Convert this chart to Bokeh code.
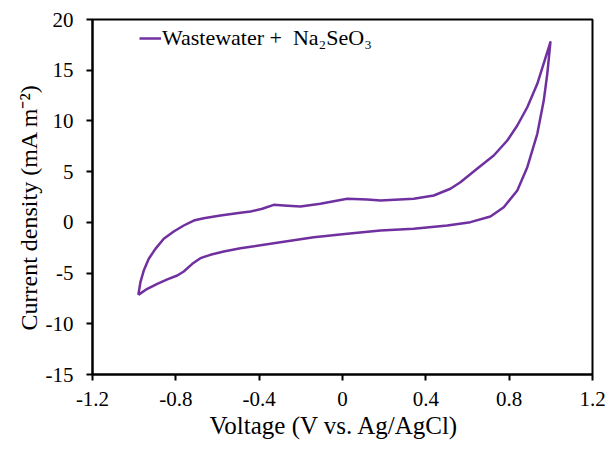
from bokeh.plotting import figure
from bokeh.models import Legend, LegendItem, FixedTicker, Range1d, Title
from bokeh.embed import file_html
from bokeh.resources import INLINE

# Forward (anodic) scan: -0.98 V -> 1.0 V
voltage_forward = [-0.980, -0.970, -0.954, -0.930, -0.898, -0.858, -0.810, -0.762, -0.714,
                   -0.666, -0.586, -0.490, -0.442, -0.385, -0.330, -0.282, -0.202, -0.106,
                   -0.042, 0.023, 0.119, 0.182, 0.342, 0.438, 0.518, 0.566, 0.646, 0.726,
                   0.791, 0.839, 0.887, 0.935, 0.998]
current_forward = [-7.15, -5.90, -4.75, -3.59, -2.61, -1.62, -0.90, -0.31, 0.18,
                   0.41, 0.68, 0.94, 1.07, 1.34, 1.73, 1.66, 1.56, 1.83,
                   2.09, 2.32, 2.25, 2.15, 2.32, 2.65, 3.31, 3.96, 5.28, 6.59,
                   8.07, 9.55, 11.35, 13.66, 17.76]
# Reverse (cathodic) scan: 1.0 V -> -0.98 V
voltage_reverse = [0.998, 0.983, 0.966, 0.935, 0.887, 0.839, 0.774, 0.710, 0.614, 0.503,
                   0.342, 0.182, 0.023, -0.138, -0.298, -0.457, -0.490, -0.570, -0.634,
                   -0.682, -0.721, -0.762, -0.793, -0.841, -0.889, -0.937, -0.980]
current_reverse = [17.76, 14.65, 12.01, 8.73, 5.44, 3.14, 1.49, 0.58, 0.02, -0.31,
                   -0.64, -0.80, -1.13, -1.46, -1.96, -2.45, -2.55, -2.87, -3.20,
                   -3.53, -4.09, -4.84, -5.24, -5.63, -6.06, -6.55, -7.15]

x_ticks = [-1.2, -0.8, -0.4, 0, 0.4, 0.8, 1.2]
x_tick_labels = ["-1.2", "-0.8", "-0.4", "0", "0.4", "0.8", "1.2"]
y_ticks = [-15, -10, -5, 0, 5, 10, 15, 20]
y_tick_labels = ["-15", "-10", "-5", "0", "5", "10", "15", "20"]
series_label = "Wastewater +  Na\u2082SeO\u2083"
x_title = "Voltage  (V vs. Ag/AgCl)"
y_title = "Current density  (mA m\u207b\u00b2)"

FONT = "Times New Roman"
PURPLE = "#7030A0"

p = figure(width=608, height=445, x_range=Range1d(-1.2, 1.2), y_range=Range1d(-15, 20),
           output_backend="svg", toolbar_location=None,
           min_border_left=92, min_border_right=16, min_border_top=19, min_border_bottom=71)

r = p.line(voltage_forward + voltage_reverse[1:], current_forward + current_reverse[1:],
           line_color=PURPLE, line_width=2.5, line_join="round")

p.xgrid.visible = False
p.ygrid.visible = False
p.outline_line_color = "black"
p.outline_line_width = 2
p.background_fill_color = "white"
p.border_fill_color = "white"

p.xaxis.ticker = FixedTicker(ticks=x_ticks)
p.xaxis.major_label_overrides = {t: l for t, l in zip(x_ticks, x_tick_labels)}
p.yaxis.ticker = FixedTicker(ticks=y_ticks)
p.yaxis.major_label_overrides = {t: l for t, l in zip(y_ticks, y_tick_labels)}

for ax in (p.xaxis[0], p.yaxis[0]):
    ax.axis_line_color = "black"
    ax.axis_line_width = 2
    ax.major_tick_line_color = "black"
    ax.major_tick_line_width = 2
    ax.major_tick_in = 0
    ax.major_tick_out = 6
    ax.minor_tick_line_color = None
    ax.major_label_text_font = FONT
    ax.major_label_text_font_size = "21px"
    ax.major_label_text_color = "black"

p.xaxis.major_label_standoff = 11
p.yaxis.major_label_standoff = 13

p.add_layout(Title(text=x_title, align="left", offset=117, standoff=3,
                   text_font=FONT, text_font_size="25px", text_font_style="normal",
                   text_color="black"), "below")
p.add_layout(Title(text=y_title, align="left", offset=44, standoff=1,
                   text_font=FONT, text_font_size="24px", text_font_style="normal",
                   text_color="black"), "left")

legend = Legend(items=[LegendItem(label=series_label, renderers=[r])],
                location=(47, 323))
legend.background_fill_alpha = 0
legend.border_line_alpha = 0
legend.padding = 0
legend.margin = 0
legend.glyph_width = 22
legend.glyph_height = 20
legend.label_standoff = 1
legend.label_text_font = FONT
legend.label_text_font_size = "22px"
legend.label_text_color = "black"
p.add_layout(legend)

open("out.html", "w").write(file_html(p, INLINE))
